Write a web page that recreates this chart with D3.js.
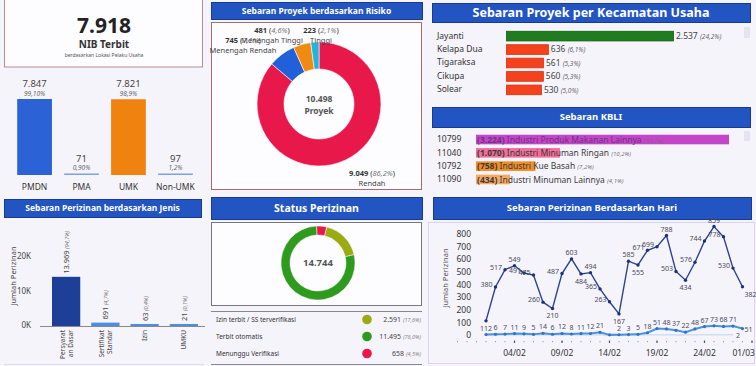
<!DOCTYPE html>
<html>
<head>
<meta charset="utf-8">
<script src="https://cdn.jsdelivr.net/npm/d3@7"></script>
<style>
body{margin:0;background:#f6f4fb;}
svg{display:block;font-family:"Noto Sans",sans-serif;}
</style>
</head>
<body>
<script>
(function(){
//data
var nibTotal = 7918;

var investCats = ["PMDN", "PMA", "UMK", "Non-UMK"];
var investVals = [7847, 71, 7821, 97];
var investPct = ["99,10%", "0,90%", "98,9%", "1,2%"];

var jenisCats = ["Persyaratan Dasar", "Sertifikat Standar", "Izin", "UMKU"];
var jenisLines = [["Persyarat", "an Dasar"], ["Sertifikat", "Standar"], ["Izin"], ["UMKU"]];
var jenisVals = [13969, 691, 63, 21];
var jenisPct = ["94,7%", "4,7%", "0,4%", "0,1%"];
var jenisTicks = [0, 10000, 20000];

var riskCats = ["Rendah", "Menengah Rendah", "Menengah Tinggi", "Tinggi"];
var riskVals = [9049, 745, 481, 223];
var riskPct = ["86,2%", "7,1%", "4,6%", "2,1%"];
var riskTotal = 10498;

var statusCats = ["Menunggu Verifikasi", "Izin terbit / SS terverifikasi", "Terbit otomatis"];
var statusVals = [658, 2591, 11495];
var statusPct = ["4,5%", "17,6%", "78,0%"];
var statusTotal = 14744;
var legendOrder = [1, 2, 0];

var kecCats = ["Jayanti", "Kelapa Dua", "Tigaraksa", "Cikupa", "Solear"];
var kecVals = [2537, 636, 561, 560, 530];
var kecPct = ["24,2%", "6,1%", "5,3%", "5,3%", "5,0%"];

var kbliCodes = ["10799", "11040", "10792", "11090"];
var kbliNames = ["Industri Produk Makanan Lainnya", "Industri Minuman Ringan", "Industri Kue Basah", "Industri Minuman Lainnya"];
var kbliVals = [3224, 1070, 758, 434];
var kbliPct = ["30,7%", "10,2%", "7,2%", "4,1%"];

var dayStart = "2023-02-01";
var dailyMain = [112, 380, 517, 549, 491, 475, 260, 210, 487, 603, 484, 494, 365, 263, 167, 585, 555, 671, 699, 788, 503, 434, 576, 744, 859, 778, 530, 382];
var dailySecond = [4, 6, 7, 11, 9, 5, 14, 6, 12, 8, 11, 12, 21, 1, 2, 3, 5, 18, 51, 48, 37, 22, 48, 67, 73, 68, 71, 51];
var dailyThird = [0, 0, 0, 1, 0, 0, 1, 0, 0, 1, 0, 0, 1, 0, 0, 0, 0, 1, 1, 1, 0, 1, 1, 1, 1, 1, 2];
var dayTickLabels = ["2023-02-04", "2023-02-09", "2023-02-14", "2023-02-19", "2023-02-24", "2023-03-01"];
var dayYTicks = [0, 100, 200, 300, 400, 500, 600, 700, 800];

//formatting
var loc = d3.formatLocale({decimal: ",", thousands: ".", grouping: [3], currency: ["Rp", ""]});
var fmt = loc.format(",d");
var parse = d3.timeParse("%Y-%m-%d");
var dayFmt = d3.timeFormat("%d/%m");

var svg = d3.select("body").append("svg")
    .attr("width", 756)
    .attr("height", 366);

//blue title bar
function header(x, y, w, h, title, size){
    svg.append("rect")
        .attr("x", x + 0.5).attr("y", y + 0.5)
        .attr("width", w).attr("height", h)
        .attr("fill", "#2254c2")
        .attr("stroke", "#173b92");
    svg.append("text")
        .attr("x", x + w / 2).attr("y", y + h / 2)
        .attr("dy", "0.36em")
        .attr("text-anchor", "middle")
        .attr("fill", "#fff")
        .attr("font-weight", "bold")
        .attr("font-size", size)
        .text(title);
}

//NIB card
svg.append("rect")
    .attr("x", 4.5).attr("y", -1)
    .attr("width", 198).attr("height", 68)
    .attr("fill", "#fdfcff")
    .attr("stroke", "#b98c8c");
svg.append("text").attr("x", 104).attr("y", 33).attr("text-anchor", "middle")
    .attr("font-size", 21).attr("font-weight", "bold").attr("fill", "#222")
    .text(fmt(nibTotal));
svg.append("text").attr("x", 104).attr("y", 48).attr("text-anchor", "middle")
    .attr("font-size", 10).attr("font-weight", "bold").attr("fill", "#333")
    .text("NIB Terbit");
svg.append("text").attr("x", 104).attr("y", 57).attr("text-anchor", "middle")
    .attr("font-size", 5).attr("fill", "#555")
    .text("berdasarkan Lokasi Pelaku Usaha");

//investment bars
var xInv = d3.scaleBand().domain(investCats).range([5, 205]).padding(0.26);
var yInv = d3.scaleLinear().domain([0, d3.max(investVals)]).range([175, 99]);
var invColors = ["#2b63d6", "#7f9fe4", "#f0820f", "#7f9fe4"];

investCats.forEach(function(c, i){
    var v = investVals[i],
        top = Math.min(yInv(v), 173.5);
    svg.append("rect")
        .attr("x", xInv(c)).attr("y", top)
        .attr("width", xInv.bandwidth()).attr("height", 175 - top)
        .attr("fill", invColors[i]);
    svg.append("text").attr("x", xInv(c) + xInv.bandwidth() / 2).attr("y", top - 12)
        .attr("text-anchor", "middle").attr("font-size", 9.5).attr("fill", "#444")
        .text(fmt(v));
    svg.append("text").attr("x", xInv(c) + xInv.bandwidth() / 2).attr("y", top - 3.5)
        .attr("text-anchor", "middle").attr("font-size", 6.5).attr("font-style", "italic").attr("fill", "#666")
        .text(investPct[i]);
    svg.append("text").attr("x", xInv(c) + xInv.bandwidth() / 2).attr("y", 190)
        .attr("text-anchor", "middle").attr("font-size", 8.5).attr("fill", "#333")
        .text(c);
});

//perizinan jenis
header(4, 199, 197, 18, "Sebaran Perizinan berdasarkan Jenis", 8.5);

var xJen = d3.scaleBand().domain(jenisCats).range([41, 209]).padding(0.28);
var yJen = d3.scaleLinear().domain([0, 20000]).range([325, 256]);

svg.append("text")
    .attr("transform", "translate(16,276) rotate(-90)")
    .attr("text-anchor", "middle").attr("font-size", 7.5).attr("fill", "#444")
    .text("Jumlah Perizinan");

var jAxis = svg.append("g")
    .attr("transform", "translate(34,0)")
    .call(d3.axisLeft(yJen).tickValues(jenisTicks).tickSize(0).tickFormat(function(d){ return (d / 1000) + "K"; }));
jAxis.select(".domain").remove();
jAxis.selectAll("text").attr("font-size", 8).attr("fill", "#444").attr("font-family", "Noto Sans");

jenisCats.forEach(function(c, i){
    var v = jenisVals[i],
        cx = xJen(c) + xJen.bandwidth() / 2,
        top = Math.min(yJen(v), 324);
    svg.append("rect")
        .attr("x", xJen(c)).attr("y", top)
        .attr("width", xJen.bandwidth()).attr("height", 326 - top)
        .attr("fill", i === 0 ? "#1d3f98" : "#4a8fe0");
    var t = svg.append("text")
        .attr("transform", "translate(" + (cx + 3) + "," + (top - 3) + ") rotate(-90)")
        .attr("font-size", 7.5).attr("fill", "#444");
    t.append("tspan").text(fmt(v));
    t.append("tspan").attr("font-size", 5.5).attr("font-style", "italic").attr("fill", "#777").text(" (" + jenisPct[i] + ")");
    jenisLines[i].forEach(function(line, k){
        var n = jenisLines[i].length;
        svg.append("text")
            .attr("transform", "translate(" + (cx + 2.5 + (k - (n - 1) / 2) * 8) + ",330) rotate(-90)")
            .attr("text-anchor", "end").attr("font-size", 6.5).attr("fill", "#444")
            .text(line);
    });
});
svg.append("line").attr("x1", 40).attr("x2", 205).attr("y1", 326.5).attr("y2", 326.5)
    .attr("stroke", "#888");
svg.append("line").attr("x1", 4).attr("x2", 204).attr("y1", 364.5).attr("y2", 364.5)
    .attr("stroke", "#e0dcea");

//risk donut
header(211, 2, 211, 17, "Sebaran Proyek berdasarkan Risiko", 8.5);
svg.append("rect")
    .attr("x", 211.5).attr("y", 22.5)
    .attr("width", 210).attr("height", 167)
    .attr("fill", "#fdfcff")
    .attr("stroke", "#a86b6b");

var riskColors = ["#e8194a", "#2160d8", "#f08a12", "#22b4dc"];
var riskPie = d3.pie().sort(null).value(function(d){ return d; });
var riskArc = d3.arc().innerRadius(35).outerRadius(62);
var riskG = svg.append("g").attr("transform", "translate(319,104)");
riskG.selectAll("path")
    .data(riskPie(riskVals))
    .enter()
    .append("path")
    .attr("d", riskArc)
    .attr("fill", function(d, i){ return riskColors[i]; })
    .attr("stroke", "#fdfcff")
    .attr("stroke-width", 0.6);
riskG.append("text").attr("y", -2).attr("text-anchor", "middle")
    .attr("font-size", 8.5).attr("font-weight", "bold").attr("fill", "#555")
    .text(fmt(riskTotal));
riskG.append("text").attr("y", 10).attr("text-anchor", "middle")
    .attr("font-size", 8.5).attr("font-weight", "bold").attr("fill", "#555")
    .text("Proyek");

//label anchors, offsets from donut centre
var riskLabelAt = [[53, 72], [-76, -61], [-47, -71], [2, -71]];
riskCats.forEach(function(c, i){
    var p = riskLabelAt[i];
    var t = riskG.append("text").attr("x", p[0]).attr("y", p[1])
        .attr("text-anchor", "middle").attr("font-size", 7.5).attr("fill", "#333");
    t.append("tspan").attr("font-weight", "bold").text(fmt(riskVals[i]) + " ");
    t.append("tspan").text("(");
    t.append("tspan").attr("font-style", "italic").attr("fill", "#777").text(riskPct[i]);
    t.append("tspan").text(")");
    riskG.append("text").attr("x", p[0]).attr("y", p[1] + 10)
        .attr("text-anchor", "middle").attr("font-size", 7.5).attr("fill", "#444")
        .text(c);
});

//status donut
header(211, 197, 211, 22, "Status Perizinan", 10.5);
svg.append("rect")
    .attr("x", 211.5).attr("y", 222.5)
    .attr("width", 210).attr("height", 83)
    .attr("fill", "#fdfcff")
    .attr("stroke", "#777");

var statusColors = ["#e8194a", "#9aab14", "#2e9b1e"];
var statusArc = d3.arc().innerRadius(28).outerRadius(37);
var statusPie = d3.pie().sort(null).value(function(d){ return d; }).startAngle(-0.04).endAngle(2 * Math.PI - 0.04);
var statusG = svg.append("g").attr("transform", "translate(318,263)");
statusG.selectAll("path")
    .data(statusPie(statusVals))
    .enter()
    .append("path")
    .attr("d", statusArc)
    .attr("fill", function(d, i){ return statusColors[i]; })
    .attr("stroke", "#fdfcff")
    .attr("stroke-width", 0.5);
statusG.append("text").attr("dy", "0.35em").attr("text-anchor", "middle")
    .attr("font-size", 9.5).attr("font-weight", "bold").attr("fill", "#555")
    .text(fmt(statusTotal));

var yLeg = d3.scaleBand().domain(legendOrder).range([311, 362]);
[311.5, 364.5].forEach(function(y){
    svg.append("line").attr("x1", 211).attr("x2", 422).attr("y1", y).attr("y2", y)
        .attr("stroke", "#888");
});
legendOrder.forEach(function(i){
    var cy = yLeg(i) + yLeg.bandwidth() / 2;
    svg.append("text").attr("x", 216).attr("y", cy).attr("dy", "0.35em")
        .attr("font-size", 6.5).attr("fill", "#333").text(statusCats[i]);
    svg.append("circle").attr("cx", 367).attr("cy", cy).attr("r", 4.8).attr("fill", statusColors[i]);
    var t = svg.append("text").attr("x", 421).attr("y", cy).attr("dy", "0.35em")
        .attr("text-anchor", "end").attr("font-size", 7).attr("fill", "#444");
    t.append("tspan").text(fmt(statusVals[i]) + " ");
    t.append("tspan").attr("font-size", 5.5).attr("font-style", "italic").attr("fill", "#888").text("(" + statusPct[i] + ")");
});

//kecamatan bars
header(432, 3, 318, 19, "Sebaran Proyek per Kecamatan Usaha", 12.5);
var yKec = d3.scaleBand().domain(kecCats).range([27, 98]).padding(0.28);
var xKec = d3.scaleLinear().domain([0, d3.max(kecVals)]).range([0, 167]);
svg.append("rect").attr("x", 744).attr("y", 27).attr("width", 6).attr("height", 11).attr("fill", "#e6e2f2");
kecCats.forEach(function(c, i){
    var y = yKec(c), h = yKec.bandwidth();
    svg.append("text").attr("x", 437).attr("y", y + h / 2).attr("dy", "0.35em")
        .attr("font-size", 8.5).attr("fill", "#333").text(c);
    svg.append("rect").attr("x", 506.5).attr("y", y + 0.5)
        .attr("width", xKec(kecVals[i])).attr("height", h)
        .attr("fill", i === 0 ? "#1f7d1f" : "#f4421c")
        .attr("stroke", i === 0 ? "#135a13" : "#d8300e")
        .attr("stroke-width", 0.8);
    var t = svg.append("text").attr("x", 506 + xKec(kecVals[i]) + 3).attr("y", y + h / 2).attr("dy", "0.38em")
        .attr("font-size", 8.5).attr("fill", "#444");
    t.append("tspan").text(fmt(kecVals[i]) + " ");
    t.append("tspan").attr("font-size", 6.5).attr("font-style", "italic").attr("fill", "#666").text("(" + kecPct[i] + ")");
});

//kbli bars
header(432, 107, 318, 20, "Sebaran  KBLI", 9.5);
var yKb = d3.scaleBand().domain(kbliCodes).range([131, 188]).padding(0.28);
var xKb = d3.scaleLinear().domain([0, d3.max(kbliVals)]).range([0, 253]);
var kbliColors = ["#c446c8", "#f26e9b", "#f08d26", "#f8a862"];
svg.append("rect").attr("x", 744).attr("y", 131).attr("width", 6).attr("height", 10).attr("fill", "#e6e2f2");
kbliCodes.forEach(function(c, i){
    var y = yKb(c), h = yKb.bandwidth();
    svg.append("text").attr("x", 437).attr("y", y + h / 2).attr("dy", "0.35em")
        .attr("font-size", 8.5).attr("fill", "#333").text(c);
    svg.append("rect").attr("x", 476).attr("y", y)
        .attr("width", xKb(kbliVals[i])).attr("height", h)
        .attr("fill", kbliColors[i]);
    var t = svg.append("text").attr("x", 477).attr("y", y + h / 2).attr("dy", "0.36em")
        .attr("font-size", 8.5).attr("fill", i === 0 ? "#6a3580" : "#3a3a3a");
    t.append("tspan").attr("font-weight", "bold").text("(" + fmt(kbliVals[i]) + ")");
    t.append("tspan").text(" " + kbliNames[i] + " ");
    t.append("tspan").attr("font-size", 6).attr("font-style", "italic").attr("fill", i === 0 ? "#8a5a98" : "#777").text("(" + kbliPct[i] + ")");
});

//daily line chart
header(433, 197, 318, 22, "Sebaran Perizinan Berdasarkan Hari", 9.5);
svg.append("rect")
    .attr("x", 428.5).attr("y", 222.5)
    .attr("width", 326).attr("height", 141)
    .attr("fill", "none")
    .attr("stroke", "#ddd2f2");

var t0 = parse(dayStart);
var days = dailyMain.map(function(d, i){ return d3.timeDay.offset(t0, i); });
var xDay = d3.scaleTime().domain([t0, parse("2023-03-01")]).range([486, 752]);
var yDay = d3.scaleLinear().domain([0, 800]).range([335, 234]);

var yAx = svg.append("g")
    .attr("transform", "translate(471,0)")
    .call(d3.axisLeft(yDay).tickValues(dayYTicks).tickSize(0).tickPadding(0));
yAx.select(".domain").remove();
yAx.selectAll("text").attr("font-size", 8.5).attr("fill", "#333").attr("font-family", "Noto Sans");
svg.append("text")
    .attr("transform", "translate(448,278) rotate(-90)")
    .attr("text-anchor", "middle").attr("font-size", 7.5).attr("fill", "#555")
    .text("Jumlah Perizinan");

//x axis dots and labels
var allDays = d3.timeDay.range(d3.timeDay.offset(t0, -3), d3.timeDay.offset(parse("2023-03-01"), 1));
svg.selectAll(".dayDot")
    .data(allDays)
    .enter()
    .append("rect")
    .attr("class", "dayDot")
    .attr("x", function(d){ return xDay(d) - 0.5; })
    .attr("y", 341)
    .attr("width", 1)
    .attr("height", 1.2)
    .attr("fill", "#999");
dayTickLabels.forEach(function(s, i){
    var d = parse(s), last = i === dayTickLabels.length - 1;
    svg.append("rect").attr("x", xDay(d) - 0.6).attr("y", 340.5).attr("width", 1.2).attr("height", 2.5).attr("fill", "#555");
    svg.append("text").attr("x", last ? 755 : xDay(d)).attr("y", 356)
        .attr("text-anchor", last ? "end" : "middle")
        .attr("font-size", 8.5).attr("fill", "#333")
        .text(dayFmt(d));
});

var line = d3.line()
    .x(function(d, i){ return xDay(days[i]); })
    .y(function(d){ return yDay(d); });

svg.append("path").datum(dailyThird).attr("d", line)
    .attr("fill", "none").attr("stroke", "#bcd4f0").attr("stroke-width", 1);
svg.append("path").datum(dailySecond).attr("d", line)
    .attr("fill", "none").attr("stroke", "#4d93dc").attr("stroke-width", 2);
svg.append("path").datum(dailyMain).attr("d", line)
    .attr("fill", "none").attr("stroke", "#2b4290").attr("stroke-width", 1.4);

svg.selectAll(".dotSecond")
    .data(dailySecond)
    .enter()
    .append("circle")
    .attr("class", "dotSecond")
    .attr("cx", function(d, i){ return xDay(days[i]); })
    .attr("cy", function(d){ return yDay(d); })
    .attr("r", 1.6)
    .attr("fill", "#2f74c4");
svg.selectAll(".dotMain")
    .data(dailyMain)
    .enter()
    .append("circle")
    .attr("class", "dotMain")
    .attr("cx", function(d, i){ return xDay(days[i]); })
    .attr("cy", function(d){ return yDay(d); })
    .attr("r", 1.7)
    .attr("fill", "#1f3277");

//main labels: peaks above, troughs below, rest to the left
dailyMain.forEach(function(v, i){
    var prev = i > 0 ? dailyMain[i - 1] : -Infinity,
        next = i < dailyMain.length - 1 ? dailyMain[i + 1] : -Infinity,
        x = xDay(days[i]), y = yDay(v),
        lx = x, ly = y - 4, anchor = "middle";
    if (i === 0){ ly = y + 10; }
    else if (v >= prev && v >= next){ ly = y - 4; }
    else if (v <= prev && v <= dailyMain[i + 1]){ ly = y + 10; }
    else if (i === dailyMain.length - 1){ lx = x + 2; ly = y + 10; anchor = "start"; }
    else { lx = x - 3; ly = y; anchor = "end"; }
    svg.append("text").attr("x", lx).attr("y", ly)
        .attr("text-anchor", anchor).attr("font-size", 7).attr("fill", "#4a4a5a")
        .text(v);
});
dailySecond.forEach(function(v, i){
    if (i === 0 || i === 13) return;
    var last = i === dailySecond.length - 1,
        x = xDay(days[i]), y = yDay(v);
    svg.append("text")
        .attr("x", last ? x + 2 : x)
        .attr("y", last ? y + 3 : y - 4)
        .attr("text-anchor", last ? "start" : "middle")
        .attr("font-size", 7).attr("fill", "#4a4a5a")
        .text(v);
});
var li = dailyThird.length - 1;
svg.append("text")
    .attr("x", xDay(days[li]) + 3).attr("y", yDay(dailyThird[li]) + 3)
    .attr("font-size", 7).attr("fill", "#4a4a5a")
    .text(dailyThird[li]);

})();
</script>
</body>
</html>
